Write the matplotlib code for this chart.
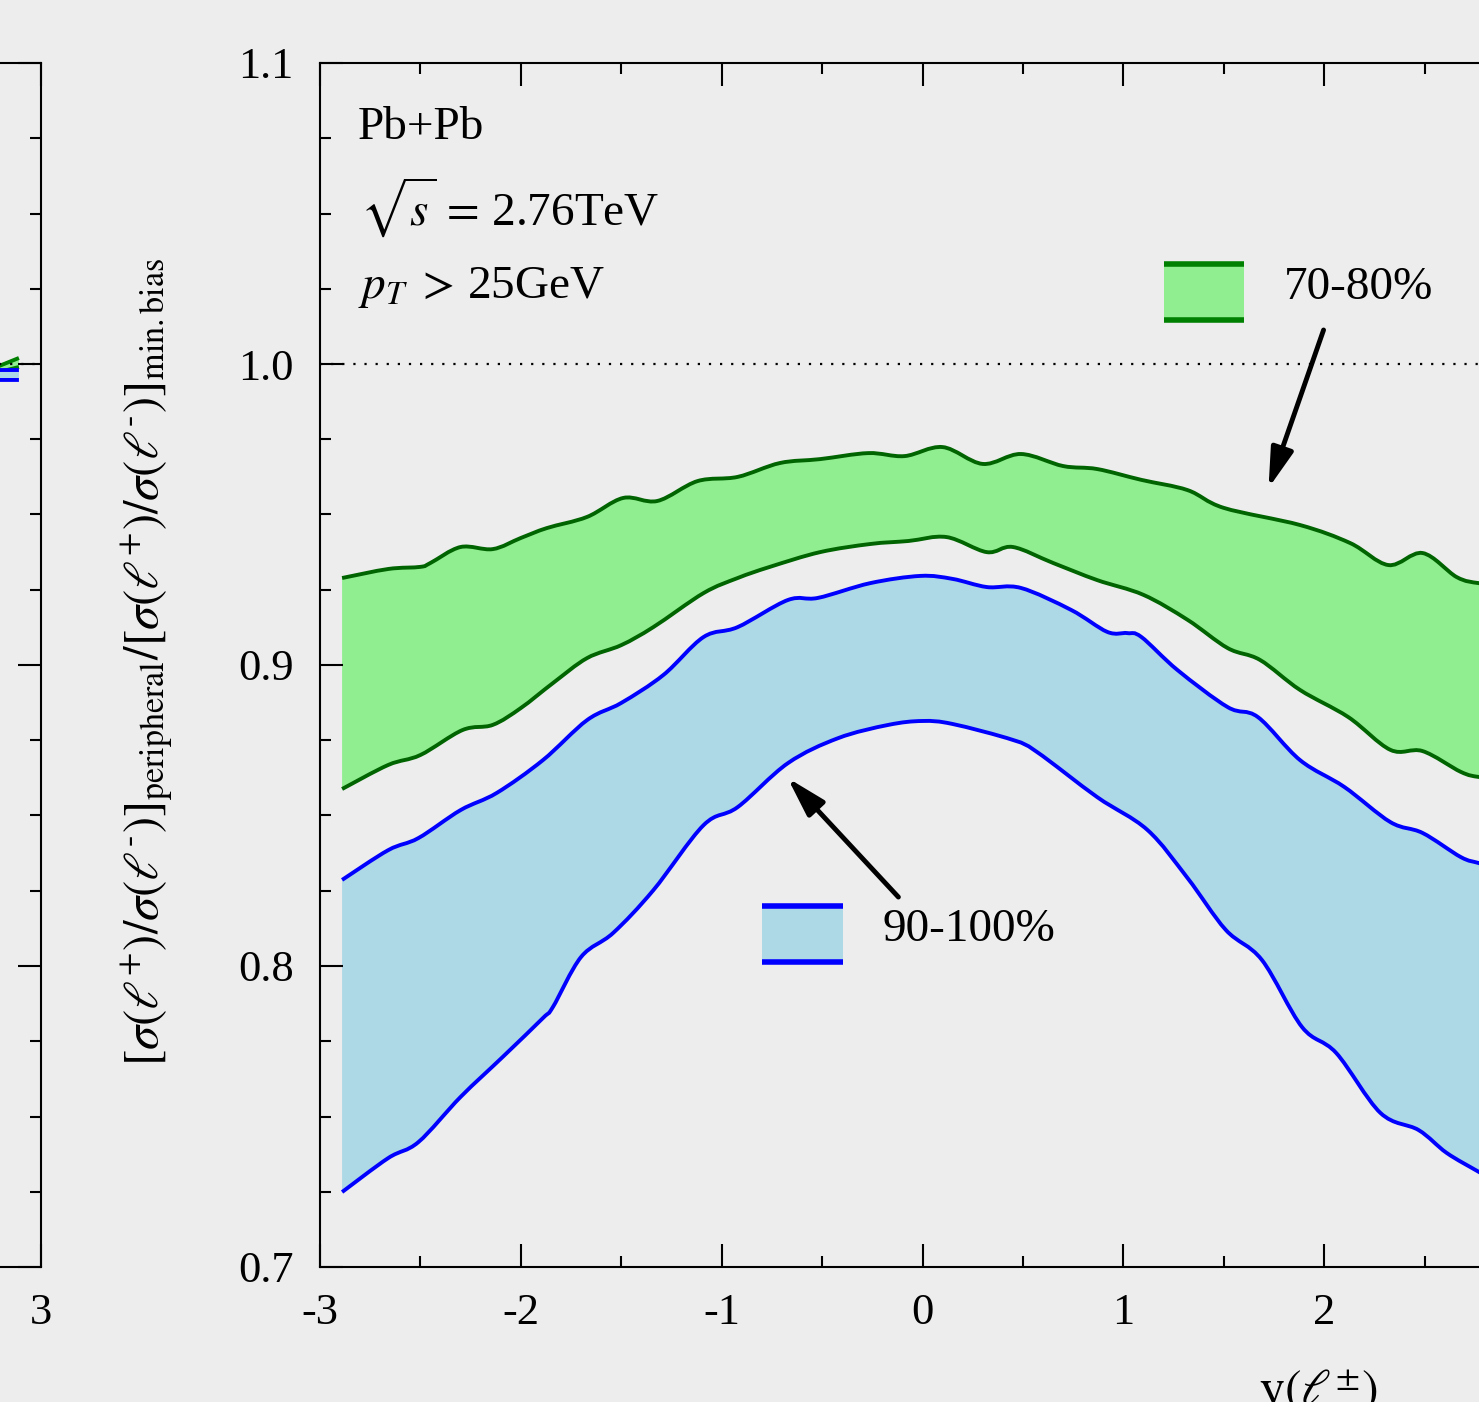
import numpy as np
import matplotlib
matplotlib.use('Agg')
import matplotlib.pyplot as plt
from matplotlib.path import Path
from matplotlib.patches import PathPatch
from matplotlib.ticker import MultipleLocator, FuncFormatter

plt.rcParams['font.family'] = ['Liberation Serif', 'DejaVu Serif']
plt.rcParams['mathtext.fontset'] = 'stix'
plt.rcParams['axes.unicode_minus'] = False

bg = '#ededed'

# 70-80% band (upper / lower edge)
gu_x = [-2.89, -2.66, -2.50, -2.45, -2.30, -2.14, -2.00, -1.87, -1.67, -1.49, -1.32, -1.12, -0.92, -0.71, -0.51, -0.27,
        -0.09, 0.10, 0.30, 0.49, 0.70, 0.87, 1.09, 1.32, 1.50, 1.88, 2.13, 2.32, 2.49, 2.66, 2.77, 2.89]
gu_y = [0.9289, 0.9319, 0.9326, 0.9339, 0.9392, 0.9385, 0.9422, 0.9455, 0.9492, 0.9555, 0.9545, 0.9611, 0.9625, 0.9671,
        0.9684, 0.9704, 0.9694, 0.9724, 0.9668, 0.9701, 0.9661, 0.9651, 0.9615, 0.9581, 0.9522, 0.9465, 0.9405, 0.9332,
        0.9372, 0.9292, 0.9272, 0.9268]
gl_x = [-2.89, -2.66, -2.50, -2.29, -2.14, -2.00, -1.84, -1.67, -1.50, -1.34, -1.09, -0.92, -0.76, -0.51, -0.26, -0.07,
        0.12, 0.32, 0.45, 0.65, 0.87, 1.10, 1.32, 1.52, 1.68, 1.88, 2.12, 2.33, 2.49, 2.68, 2.77, 2.89]
gl_y = [0.8588, 0.8668, 0.8701, 0.8784, 0.8801, 0.8857, 0.8940, 0.9023, 0.9066, 0.9126, 0.9239, 0.9289, 0.9326, 0.9375,
        0.9402, 0.9412, 0.9425, 0.9375, 0.9392, 0.9339, 0.9282, 0.9233, 0.9150, 0.9056, 0.9017, 0.8917, 0.8827, 0.8718,
        0.8714, 0.8645, 0.8628, 0.8622]

# 90-100% band
bu_x = [-2.89, -2.66, -2.51, -2.30, -2.12, -1.89, -1.67, -1.50, -1.29, -1.09, -0.92, -0.67, -0.52, -0.26, -0.01, 0.15,
        0.32, 0.49, 0.74, 0.92, 1.02, 1.09, 1.27, 1.52, 1.67, 1.88, 2.10, 2.33, 2.49, 2.68, 2.77, 2.89]
bu_y = [0.8286, 0.8385, 0.8425, 0.8518, 0.8575, 0.8684, 0.8817, 0.8874, 0.8967, 0.9093, 0.9126, 0.9216, 0.9223, 0.9272,
        0.9296, 0.9286, 0.9259, 0.9256, 0.9183, 0.9110, 0.9106, 0.9093, 0.8983, 0.8860, 0.8827, 0.8684, 0.8595, 0.8478,
        0.8442, 0.8362, 0.8342, 0.8320]
bl_x = [-2.89, -2.66, -2.51, -2.30, -2.09, -1.89, -1.84, -1.70, -1.54, -1.34, -1.09, -0.92, -0.67, -0.42, -0.17, 0.00,
        0.15, 0.45, 0.57, 0.87, 1.12, 1.32, 1.51, 1.69, 1.89, 2.06, 2.28, 2.47, 2.61, 2.77, 2.89]
bl_y = [0.7249, 0.7362, 0.7415, 0.7565, 0.7698, 0.7827, 0.7864, 0.8030, 0.8110, 0.8252, 0.8468, 0.8528, 0.8674, 0.8757,
        0.8801, 0.8814, 0.8804, 0.8751, 0.8711, 0.8561, 0.8452, 0.8292, 0.8120, 0.8020, 0.7797, 0.7711, 0.7512, 0.7455,
        0.7379, 0.7316, 0.7270]

# what is left of the neighbour panel (its right end only)
lp_x = [2.79, 2.89]
lp_gu = [0.9993, 1.0020]
lp_gl = [0.9973, 0.9990]
lp_bu = [0.9980, 0.9980]
lp_bl = [0.9947, 0.9947]

fig = plt.figure(figsize=(14.79, 14.02), dpi=100, facecolor=bg)


def style_axes(ax):
    ax.set_facecolor(bg)
    ax.set_xlim(-3, 3)
    ax.set_ylim(0.7, 1.1)
    ax.xaxis.set_major_locator(MultipleLocator(1))
    ax.xaxis.set_minor_locator(MultipleLocator(0.5))
    ax.yaxis.set_major_locator(MultipleLocator(0.1))
    ax.yaxis.set_minor_locator(MultipleLocator(0.025))
    ax.xaxis.set_major_formatter(FuncFormatter(lambda v, p: '%d' % round(v)))
    ax.yaxis.set_major_formatter(FuncFormatter(lambda v, p: '%.1f' % v))
    ax.tick_params(which='both', direction='in', top=True, right=True, width=1.5, labelsize=32, pad=19)
    ax.tick_params(which='major', length=16.5)
    ax.tick_params(which='minor', length=8)
    for s in ax.spines.values():
        s.set_linewidth(1.5)
    ax.axhline(1.0, color='black', ls=(0, (1, 4)), lw=1.6)


def smooth_path(x, y):
    # cubic bezier through the read points (curve passes through each point)
    p = np.column_stack([x, y])
    n = len(p)
    verts, codes = [p[0]], [Path.MOVETO]
    for i in range(n - 1):
        p0, p1, p2, p3 = p[max(i - 1, 0)], p[i], p[i + 1], p[min(i + 2, n - 1)]
        verts += [p1 + (p2 - p0) / 6, p2 - (p3 - p1) / 6, p2]
        codes += [Path.CURVE4] * 3
    return verts, codes


def band(ax, xh, yh, xl, yl, fc, ec, lw=2.8):
    xh, yh, xl, yl = map(np.asarray, (xh, yh, xl, yl))
    vh, ch = smooth_path(xh, yh)
    vl, cl = smooth_path(xl[::-1], yl[::-1])
    cl = [Path.LINETO] + cl[1:]
    ax.add_patch(PathPatch(Path(vh + vl + [vh[0]], ch + cl + [Path.CLOSEPOLY]), fc=fc, lw=0))
    for v, c in (smooth_path(xh, yh), smooth_path(xl, yl)):
        ax.add_patch(PathPatch(Path(v, c), fill=False, ec=ec, lw=lw, capstyle='butt'))


# left (cut) panel
axl = fig.add_axes([-1164 / 1479, 135 / 1402, 1205 / 1479, 1204 / 1402])
style_axes(axl)
band(axl, lp_x, lp_gu, lp_x, lp_gl, 'lightgreen', 'green')
band(axl, lp_x, lp_bu, lp_x, lp_bl, 'lightblue', 'blue')

# main panel
ax = fig.add_axes([320 / 1479, 135 / 1402, 1205 / 1479, 1204 / 1402])
style_axes(ax)
band(ax, gu_x, gu_y, gl_x, gl_y, 'lightgreen', 'darkgreen')
band(ax, bu_x, bu_y, bl_x, bl_y, 'lightblue', 'blue')

# key boxes
ax.fill_between([1.20, 1.60], 1.0146, 1.0332, color='lightgreen', lw=0)
ax.hlines([1.0146, 1.0332], 1.20, 1.60, color='green', lw=4)
ax.text(1.80, 1.0253, '70-80%', fontsize=34, va='center', ha='left')
ax.fill_between([-0.797, -0.394], 0.8013, 0.8199, color='lightblue', lw=0)
ax.hlines([0.8013, 0.8199], -0.797, -0.394, color='blue', lw=4)
ax.text(-0.20, 0.8120, '90-100%', fontsize=34, va='center', ha='left')

arr = dict(arrowstyle='-|>,head_length=0.8,head_width=0.23', mutation_scale=30, lw=3.5,
           color='black', shrinkA=0, shrinkB=0)
ax.annotate('', xy=(1.723, 0.9588), xytext=(1.997, 1.0113), arrowprops=arr)
ax.annotate('', xy=(-0.672, 0.8625), xytext=(-0.120, 0.8229), arrowprops=arr)

ax.text(-2.81, 1.0784, 'Pb+Pb', fontsize=34, va='center', ha='left')
ax.text(-2.80, 1.0518, r'$\sqrt{s}\,=\,$2.76TeV', fontsize=34, va='center', ha='left')
ax.text(-2.81, 1.0253, r'$p_T\;>\,$25GeV', fontsize=34, va='center', ha='left')

fig.text(148 / 1479, 1 - 662 / 1402,
         r'$[\sigma(\ell^{+})/\sigma(\ell^{\text{-}})]_{\mathrm{peripheral}}'
         r'/[\sigma(\ell^{+})/\sigma(\ell^{\text{-}})]_{\mathrm{min{.}bias}}$',
         rotation=90, fontsize=35, ha='center', va='center')
fig.text(1318 / 1479, 1 - 1393 / 1402, r'$\mathrm{y}(\ell^{\pm})$', fontsize=36, ha='center', va='center')

fig.savefig('out.png', dpi=100, facecolor=bg)
